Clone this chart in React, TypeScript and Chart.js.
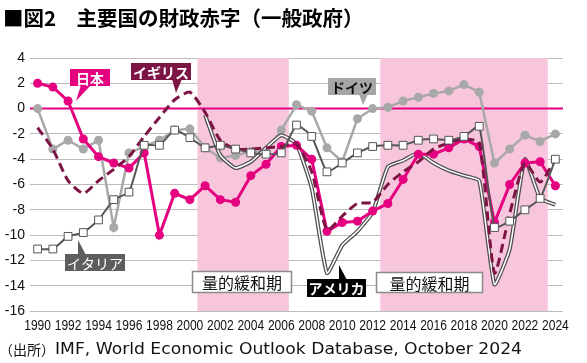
import React, { useEffect, useRef } from 'react';
import { Chart, registerables } from 'chart.js';

Chart.register(...registerables);

const years = [
  '1990', '1991', '1992', '1993', '1994', '1995', '1996', '1997', '1998', '1999',
  '2000', '2001', '2002', '2003', '2004', '2005', '2006', '2007', '2008', '2009',
  '2010', '2011', '2012', '2013', '2014', '2015', '2016', '2017', '2018', '2019',
  '2020', '2021', '2022', '2023', '2024',
];

const japan = [
  2.0, 1.7, 0.6, -2.4, -3.8, -4.3, -4.7, -3.5, -10.0, -6.7,
  -7.2, -6.1, -7.2, -7.4, -5.3, -4.4, -3.0, -2.9, -4.0, -9.7,
  -9.0, -8.9, -8.1, -7.5, -5.6, -3.6, -3.6, -3.1, -2.4, -3.0,
  -9.0, -6.0, -4.3, -4.2, -6.1,
];

const germany = [
  0.0, -3.2, -2.5, -3.2, -2.5, -9.4, -3.5, -3.0, -2.5, -1.7,
  -1.6, -3.1, -3.9, -3.7, -3.4, -3.4, -1.7, 0.3, -0.2, -3.1,
  -4.2, -0.8, 0.0, 0.1, 0.6, 0.9, 1.2, 1.4, 1.9, 1.3,
  -4.3, -3.2, -2.1, -2.6, -2.0,
];

const uk = [
  -1.5, -3.2, -5.7, -6.7, -5.7, -4.8, -3.8, -2.2, -0.7, 0.7,
  1.3, -0.3, -2.5, -3.2, -3.2, -3.1, -3.0, -2.8, -5.0, -9.6,
  -8.5, -7.5, -7.4, -6.0, -5.0, -4.2, -3.2, -2.7, -2.4, -2.7,
  -13.0, -8.3, -4.3, -5.8, -4.0,
];

const italy = [
  -11.1, -11.1, -10.1, -9.8, -8.8, -7.2, -6.6, -2.9, -2.9, -1.7,
  -2.3, -3.1, -2.9, -3.2, -3.5, -3.6, -3.5, -1.3, -2.2, -5.0,
  -4.3, -3.5, -3.0, -2.9, -2.9, -2.5, -2.4, -2.5, -2.2, -1.4,
  -9.4, -8.9, -8.0, -7.1, -4.0,
];

const usa = [
  null, null, null, null, null, null, null, null, null, null,
  null, -0.5, -3.7, -4.7, -4.2, -3.1, -2.1, -2.8, -6.3, -13.0,
  -10.8, -9.7, -8.2, -4.6, -4.1, -3.5, -4.3, -4.9, -5.3, -5.7,
  -13.9, -11.1, -4.0, -7.1, -7.6,
];

const qePeriods = [
  ['2001', '2006'],
  ['2013', '2023'],
];

const yMin = -16;
const yMax = 4;
const yStep = 2;

const titleText = '■図2　主要国の財政赤字（一般政府）';
const sourceLabel = '（出所）';
const sourceBody = 'IMF, World Economic Outlook Database, October 2024';

const CJK = '"Noto Sans CJK JP", "Noto Sans", sans-serif';

type Callout = {
  text: string;
  x: number; y: number; w: number; h: number;
  bg: string; fg: string; border?: string;
  font: string;
  tail?: number[][];
};

const callouts: Callout[] = [
  { text: '日本', x: 70, y: 69, w: 40, h: 17, bg: '#e4007f', fg: '#fff', font: `bold 14px ${CJK}`, tail: [[81, 85], [91, 85], [76, 101]] },
  { text: 'イギリス', x: 131, y: 63, w: 60, h: 17, bg: '#7d1446', fg: '#fff', font: `bold 14px ${CJK}`, tail: [[172, 79], [182, 79], [176, 93]] },
  { text: 'ドイツ', x: 328, y: 78, w: 48, h: 17, bg: '#a6a6a6', fg: '#111', font: `bold 14px ${CJK}`, tail: [[359, 94], [368, 94], [363, 105]] },
  { text: 'イタリア', x: 65, y: 254, w: 60, h: 17, bg: '#5e5e5e', fg: '#fff', font: `14px ${CJK}`, tail: [[78, 255], [86, 255], [78, 240]] },
  { text: 'アメリカ', x: 307, y: 279, w: 59, h: 18, bg: '#000', fg: '#fff', font: `bold 14px ${CJK}`, tail: [[339, 280], [347, 280], [339, 265]] },
  { text: '量的緩和期', x: 192, y: 271, w: 100, h: 22, bg: '#fff', fg: '#111', border: '#8a8a8a', font: `16px ${CJK}` },
  { text: '量的緩和期', x: 376, y: 272, w: 107, h: 21, bg: '#fff', fg: '#111', border: '#8a8a8a', font: `16px ${CJK}` },
];

const decor = {
  id: 'decor',
  beforeDatasetsDraw(chart: any) {
    const { ctx, chartArea: a, scales } = chart;
    const x = scales.x;
    const y = scales.y;
    const half = (x.getPixelForValue(1) - x.getPixelForValue(0)) / 2;
    ctx.save();
    ctx.fillStyle = '#f7c6dd';
    for (const [s, e] of qePeriods) {
      const x0 = x.getPixelForValue(years.indexOf(s)) - half;
      const x1 = x.getPixelForValue(years.indexOf(e)) + half;
      ctx.fillRect(x0, a.top, x1 - x0, a.bottom - a.top);
    }
    const y0 = y.getPixelForValue(0);
    ctx.strokeStyle = '#e4007f';
    ctx.lineWidth = 2;
    ctx.beginPath();
    ctx.moveTo(a.left, y0);
    ctx.lineTo(a.right, y0);
    ctx.stroke();
    ctx.restore();
  },
  afterDatasetsDraw(chart: any) {
    const { ctx } = chart;
    ctx.save();
    for (const c of callouts) {
      ctx.fillStyle = c.bg;
      ctx.fillRect(c.x, c.y, c.w, c.h);
      if (c.border) {
        ctx.strokeStyle = c.border;
        ctx.lineWidth = 1.5;
        ctx.strokeRect(c.x + 0.5, c.y + 0.5, c.w - 1, c.h - 1);
      }
      if (c.tail) {
        ctx.beginPath();
        ctx.moveTo(c.tail[0][0], c.tail[0][1]);
        ctx.lineTo(c.tail[1][0], c.tail[1][1]);
        ctx.lineTo(c.tail[2][0], c.tail[2][1]);
        ctx.closePath();
        ctx.fill();
      }
      ctx.fillStyle = c.fg;
      ctx.font = c.font;
      ctx.textAlign = 'center';
      ctx.textBaseline = 'middle';
      ctx.fillText(c.text, c.x + c.w / 2, c.y + c.h / 2 + 1);
    }
    ctx.restore();
  },
  afterDraw(chart: any) {
    const { ctx, scales } = chart;
    const x = scales.x;
    ctx.save();
    // condensed x-axis year labels, placed by the category scale
    ctx.fillStyle = '#111';
    ctx.font = '14px "Liberation Sans", Arial, sans-serif';
    ctx.textAlign = 'center';
    ctx.textBaseline = 'middle';
    years.forEach((yr, i) => {
      if (i % 2 !== 0) return;
      ctx.save();
      ctx.translate(x.getPixelForValue(i), 326);
      ctx.scale(0.86, 1);
      ctx.fillText(yr, 0, 0);
      ctx.restore();
    });
    // title
    ctx.fillStyle = '#000';
    ctx.textAlign = 'left';
    ctx.font = `bold 20.5px ${CJK}`;
    ctx.fillText(titleText, 3, 18);
    // source
    ctx.fillStyle = '#111';
    ctx.font = `14px ${CJK}`;
    ctx.fillText(sourceLabel, -1, 350);
    ctx.font = `15.5px "DejaVu Sans", ${CJK}`;
    const w = ctx.measureText(sourceBody).width;
    const sx = w > 0 ? 467 / w : 1;
    ctx.save();
    ctx.translate(55, 350);
    ctx.scale(sx, 1);
    ctx.fillText(sourceBody, 0, 0);
    ctx.restore();
    ctx.restore();
  },
};

export default function App() {
  const ref = useRef<HTMLCanvasElement>(null);
  useEffect(() => {
    document.body.style.margin = '0';
    const canvas = ref.current!;
    const chart = new Chart(canvas, {
      type: 'line',
      data: {
        labels: years,
        datasets: [
          {
            label: 'ドイツ', data: germany, order: 6,
            borderColor: '#a8a8a8', backgroundColor: '#a8a8a8', borderWidth: 2.5,
            pointRadius: 4.5, pointBorderWidth: 0, pointBackgroundColor: '#a8a8a8',
          },
          {
            label: 'アメリカ', data: usa, order: 5,
            borderColor: '#4d4d4d', borderWidth: 4, pointRadius: 0, tension: 0.15,
          },
          {
            label: 'アメリカ(内)', data: usa, order: 4,
            borderColor: '#ffffff', borderWidth: 1.5, pointRadius: 0, tension: 0.15,
          },
          {
            label: '日本', data: japan, order: 3,
            borderColor: '#e4007f', backgroundColor: '#e4007f', borderWidth: 3,
            pointRadius: 4.5, pointBorderWidth: 0, pointBackgroundColor: '#e4007f',
          },
          {
            label: 'イギリス', data: uk, order: 2,
            borderColor: '#7d1446', borderWidth: 3, borderDash: [9, 5], pointRadius: 0, tension: 0.2,
          },
          {
            label: 'イタリア', data: italy, order: 1,
            borderColor: '#555555', borderWidth: 2, tension: 0.15,
            pointStyle: 'rect', pointRadius: 5.5, pointBorderWidth: 1,
            pointBackgroundColor: '#ffffff', pointBorderColor: '#555555',
          },
        ],
      },
      options: {
        responsive: false,
        animation: false,
        devicePixelRatio: 1,
        layout: { padding: { top: 58, right: 24, bottom: 30, left: 0 } },
        plugins: {
          legend: { display: false },
          tooltip: { enabled: false },
          title: { display: false },
        },
        scales: {
          x: {
            type: 'category',
            offset: true,
            grid: { display: false },
            border: { display: false },
            ticks: { display: false, autoSkip: false },
            afterFit: (s: any) => { s.height = 22; },
          },
          y: {
            min: yMin,
            max: yMax,
            ticks: {
              stepSize: yStep,
              padding: 5,
              color: '#111',
              font: { family: '"Liberation Sans", Arial, sans-serif', size: 14 },
            },
            grid: {
              color: (c: any) => (c.tick && c.tick.value === 0 ? 'rgba(0,0,0,0)' : '#bcbcbc'),
              lineWidth: 1,
              drawTicks: false,
            },
            border: { display: false },
            afterFit: (s: any) => { s.width = 30; },
          },
        },
      },
      plugins: [decor],
    });
    return () => chart.destroy();
  }, []);
  return (
    <div style={{ width: 587, height: 363, background: '#fff' }}>
      <canvas ref={ref} width={587} height={363} style={{ display: 'block' }} />
    </div>
  );
}
